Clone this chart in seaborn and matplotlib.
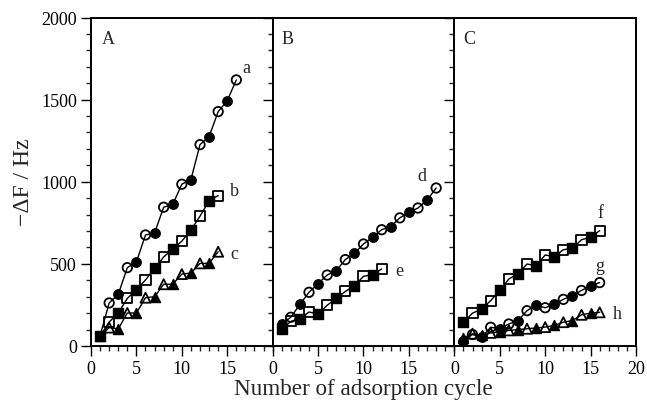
import numpy as np
import pandas as pd
import matplotlib
matplotlib.use("Agg")
import matplotlib.pyplot as plt
import seaborn as sns
from matplotlib.ticker import MultipleLocator, FixedLocator

# ---- data ----
a = [63, 262, 315, 477, 512, 676, 688, 845, 862, 985, 1013, 1226, 1275, 1427, 1494, 1620]
b = [60, 146, 201, 290, 343, 402, 473, 542, 591, 638, 706, 790, 885, 916]
c = [60, 112, 104, 201, 201, 294, 300, 376, 376, 438, 444, 503, 503, 574]
d = [134, 175, 254, 327, 380, 432, 459, 526, 564, 621, 662, 708, 727, 780, 814, 840, 889, 962]
e = [102, 150, 164, 207, 195, 248, 290, 332, 367, 424, 435, 469]
f = [144, 200, 225, 276, 339, 408, 440, 499, 489, 554, 544, 586, 595, 647, 662, 702]
g = [32, 70, 53, 114, 106, 134, 154, 215, 248, 233, 253, 284, 307, 338, 367, 386]
h = [50, 75, 65, 80, 85, 95, 100, 105, 110, 115, 125, 145, 155, 190, 200, 205]

panels = ["A", "B", "C"]
panel_series = {
    "A": [("a", a, "o", (17.1, 1693)), ("b", b, "s", (15.8, 946)), ("c", c, "^", (15.8, 566))],
    "B": [("d", d, "o", (16.4, 1037)), ("e", e, "s", (13.9, 459))],
    "C": [("f", f, "s", (16.1, 814)), ("g", g, "o", (16.0, 489)), ("h", h, "^", (18.0, 195))],
}
xtick_labels = {"A": [0, 5, 10, 15], "B": [0, 5, 10, 15], "C": [0, 5, 10, 15, 20]}

sns.set_style("ticks")
plt.rcParams["font.family"] = ["Liberation Serif", "DejaVu Serif"]

fig = plt.figure(figsize=(6.47, 4.06), dpi=100)
left, right, bottom, top = 91 / 647, 636 / 647, 1 - 347 / 406, 1 - 18.5 / 406
w = (right - left) / 3
axes = [fig.add_axes([left + i * w, bottom, w, top - bottom]) for i in range(3)]

msize = {"o": 46, "s": 52, "^": 52}
for ax, p in zip(axes, panels):
    for name, vals, mk, (lx, ly) in panel_series[p]:
        cyc = np.arange(1, len(vals) + 1)
        df = pd.DataFrame({"cycle": cyc, "val": vals})
        sns.lineplot(data=df, x="cycle", y="val", ax=ax, color="black", lw=1.0,
                     estimator=None, sort=False)
        filled = df[df.cycle % 2 == 1]
        opened = df[df.cycle % 2 == 0]
        sns.scatterplot(data=filled, x="cycle", y="val", ax=ax, marker=mk, s=msize[mk],
                        color="black", edgecolor="black", linewidth=1.0, zorder=3)
        sns.scatterplot(data=opened, x="cycle", y="val", ax=ax, marker=mk, s=msize[mk],
                        facecolor="none", edgecolor="black", linewidth=1.3, zorder=3)
        ax.text(lx, ly, name, fontsize=13, ha="center", va="center")
    ax.text(1.9 if p == "A" else 1.6, 1870, p, fontsize=13, ha="center", va="center")
    ax.set_xlim(0, 20)
    ax.set_ylim(0, 2000)
    ax.set_xlabel("")
    ax.set_ylabel("")
    ax.xaxis.set_major_locator(FixedLocator(xtick_labels[p]))
    ax.xaxis.set_minor_locator(MultipleLocator(1))
    ax.yaxis.set_major_locator(MultipleLocator(500))
    ax.yaxis.set_minor_locator(MultipleLocator(100))
    ax.tick_params(axis="both", which="major", direction="out", length=7, width=1.0,
                   labelsize=13, colors="black", pad=3)
    ax.tick_params(axis="both", which="minor", direction="out", length=3.5, width=1.0)
    ax.tick_params(axis="y", right=False)
    ax.tick_params(axis="x", top=False)
    if p != "A":
        ax.tick_params(axis="y", labelleft=False)
    for s in ax.spines.values():
        s.set_linewidth(1.4)
        s.set_color("black")
    ax.set_facecolor("white")

axes[0].set_ylabel("\u2212\u0394F / Hz", fontsize=17, labelpad=5)
fig.text((left + right) / 2, 0.04, "Number of adsorption cycle", fontsize=16.7,
         ha="center", va="center")

fig.savefig("out.png", dpi=100)
